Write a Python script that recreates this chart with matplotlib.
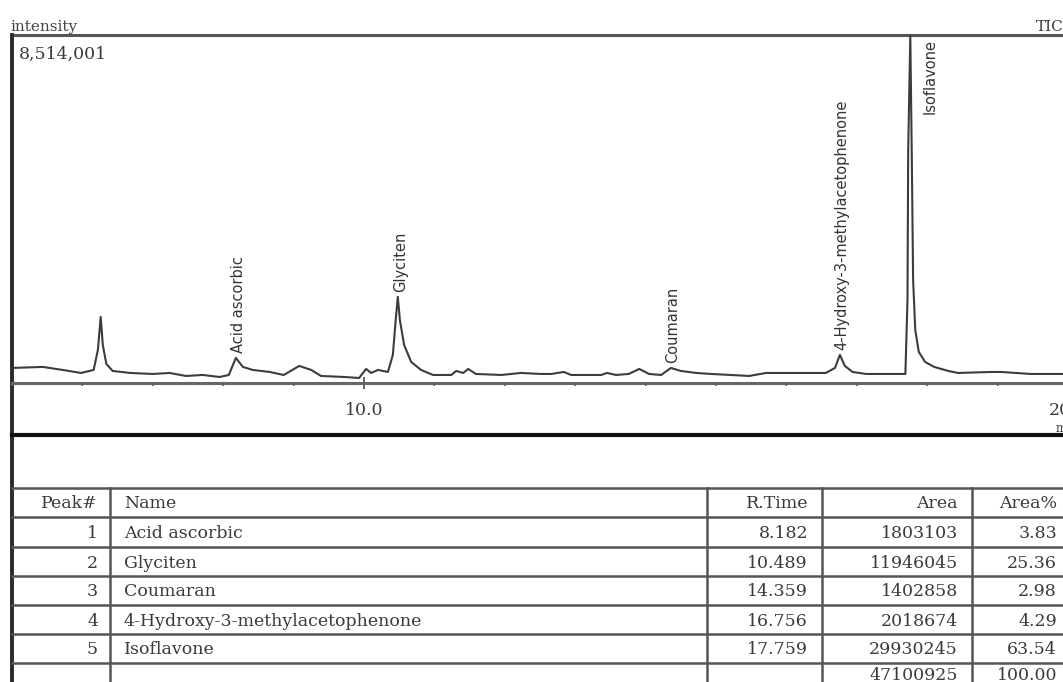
import matplotlib.pyplot as plt
from matplotlib.ticker import MultipleLocator

# TIC trace: retention time (min) and intensity (counts)
times = [5.00, 5.44, 5.72, 5.98, 6.16, 6.22, 6.26, 6.29, 6.34, 6.43, 6.68, 7.00,
         7.24, 7.47, 7.71, 7.95, 8.08, 8.18, 8.28, 8.42, 8.66, 8.86, 9.08, 9.25,
         9.39, 9.72, 9.93, 10.03, 10.10, 10.20, 10.34, 10.41, 10.45, 10.48, 10.51,
         10.57, 10.67, 10.81, 10.98, 11.24, 11.31, 11.41, 11.48, 11.59, 11.95,
         12.23, 12.51, 12.66, 12.84, 12.94, 13.37, 13.45, 13.58, 13.76, 13.91,
         14.05, 14.22, 14.36, 14.50, 14.72, 14.93, 15.21, 15.47, 15.71, 16.07,
         16.21, 16.56, 16.69, 16.76, 16.83, 16.94, 17.13, 17.49, 17.69, 17.72,
         17.73, 17.76, 17.78, 17.80, 17.83, 17.88, 17.97, 18.10, 18.30, 18.44,
         18.91, 19.05, 19.47, 20.00, 20.50]
intensity = [250000, 275000, 200000, 125000, 200000, 700000, 1520000, 820000,
             350000, 175000, 125000, 100000, 125000, 50000, 75000, 25000, 75000,
             500000, 275000, 200000, 150000, 75000, 300000, 200000, 50000, 25000,
             0, 225000, 125000, 200000, 150000, 575000, 1440000, 2020000, 1440000,
             820000, 400000, 200000, 75000, 75000, 175000, 125000, 225000, 100000,
             75000, 125000, 100000, 100000, 150000, 75000, 75000, 125000, 75000,
             100000, 225000, 100000, 75000, 250000, 175000, 125000, 100000, 75000,
             50000, 125000, 125000, 125000, 125000, 250000, 575000, 300000, 150000,
             100000, 100000, 100000, 1940000, 5680000, 8514001, 5680000, 2440000,
             1200000, 650000, 400000, 275000, 175000, 125000, 150000, 150000,
             100000, 100000, 100000]
max_intensity = 8514001

# peak table
peak_ids = [1, 2, 3, 4, 5]
peak_names = ['Acid ascorbic', 'Glyciten', 'Coumaran',
              '4-Hydroxy-3-methylacetophenone', 'Isoflavone']
peak_times = [8.182, 10.489, 14.359, 16.756, 17.759]
peak_areas = [1803103, 11946045, 1402858, 2018674, 29930245]
peak_pct = [3.83, 25.36, 2.98, 4.29, 63.54]
total_area = 47100925
total_pct = 100.00

W, H = 1063, 682
fig = plt.figure(figsize=(W / 100, H / 100), dpi=100)
serif = 'DejaVu Serif'
ink = '#3a3a3a'

# overlay in pixel coords for the frame and the table
ov = fig.add_axes([0, 0, 1, 1])
ov.set_xlim(0, W)
ov.set_ylim(H, 0)
ov.axis('off')

def fx(px):
    return px / W

def fy(py):
    return 1 - py / H

# chromatogram axes (runs past the right edge like the cropped original)
ax = fig.add_axes([fx(12), fy(383), (1125 - 12) / W, (383 - 36) / H])
ax.patch.set_alpha(0)
ax.plot(times, intensity, color='#3c3c3c', lw=1.5, clip_on=False)
ax.set_xlim(5.0, 5.0 + (1125 - 12) / 70.4)
ax.set_ylim(-125000, max_intensity)
for s in ['left', 'right', 'top']:
    ax.spines[s].set_visible(False)
ax.spines['bottom'].set_color('#666666')
ax.spines['bottom'].set_linewidth(2.2)
ax.set_yticks([])
ax.set_xticks([10, 20])
ax.set_xticklabels(['10.0', '20.0'], fontfamily=serif, fontsize=12.5, color=ink)
ax.xaxis.set_minor_locator(MultipleLocator(1))
ax.tick_params(axis='x', which='major', direction='inout', length=8, width=1.3,
               color='#555555', pad=10)
ax.tick_params(axis='x', which='minor', direction='out', length=2.5, width=1.3,
               color='#666666')

# peak labels
for name, rt in zip(peak_names, peak_times):
    apex = max(v for t, v in zip(times, intensity) if abs(t - rt) < 0.08)
    if apex >= max_intensity:
        ax.annotate(name, xy=(rt, apex), xytext=(20, -3), textcoords='offset pixels',
                    rotation=90, ha='center', va='top', fontsize=10.5,
                    color='#333333', family='DejaVu Sans')
    else:
        ax.annotate(name, xy=(rt, apex), xytext=(2, 5), textcoords='offset pixels',
                    rotation=90, ha='center', va='bottom', fontsize=10.5,
                    color='#333333', family='DejaVu Sans')

fig.text(fx(10), fy(27), 'intensity', family=serif, fontsize=11, color='#444444',
         va='center', ha='left')
fig.text(fx(1036), fy(27), 'TIC', family=serif, fontsize=11, color=ink,
         va='center', ha='left')
fig.text(fx(19), fy(54), f'{max_intensity:,}', family=serif, fontsize=12.5,
         color=ink, va='center', ha='left')
fig.text(fx(1067), fy(429), 'min', family=serif, fontsize=8.5, color=ink,
         va='center', ha='center')

# frame lines
ov.plot([12, W], [35, 35], color='#555555', lw=2.2)
ov.plot([12, 12], [35, H], color='#2a2a2a', lw=2.8)
ov.plot([12, W], [435, 435], color='#111111', lw=3)

# table
row_lines = [488, 517, 547, 576, 605, 634, 663]
col_lines = [110, 707, 822, 972]
for yl in row_lines:
    ov.plot([12, W], [yl, yl], color='#555555', lw=1.8)
for xl in col_lines:
    ov.plot([xl, xl], [488, H], color='#555555', lw=1.8)

rows = [['Peak#', 'Name', 'R.Time', 'Area', 'Area%']]
for i in range(len(peak_ids)):
    rows.append([str(peak_ids[i]), peak_names[i], f'{peak_times[i]:.3f}',
                 str(peak_areas[i]), f'{peak_pct[i]:.2f}'])
rows.append(['', '', '', str(total_area), f'{total_pct:.2f}'])

anchors = [(98, 'right'), (124, 'left'), (808, 'right'), (958, 'right'), (1057, 'right')]
row_centers = [502, 532, 561, 590, 619, 648, 673]
for r, row in enumerate(rows):
    for txt, (xa, ha) in zip(row, anchors):
        ov.text(xa, row_centers[r], txt, family=serif, fontsize=12.5, color=ink,
                ha=ha, va='center_baseline')

fig.savefig('out.png', dpi=100)
